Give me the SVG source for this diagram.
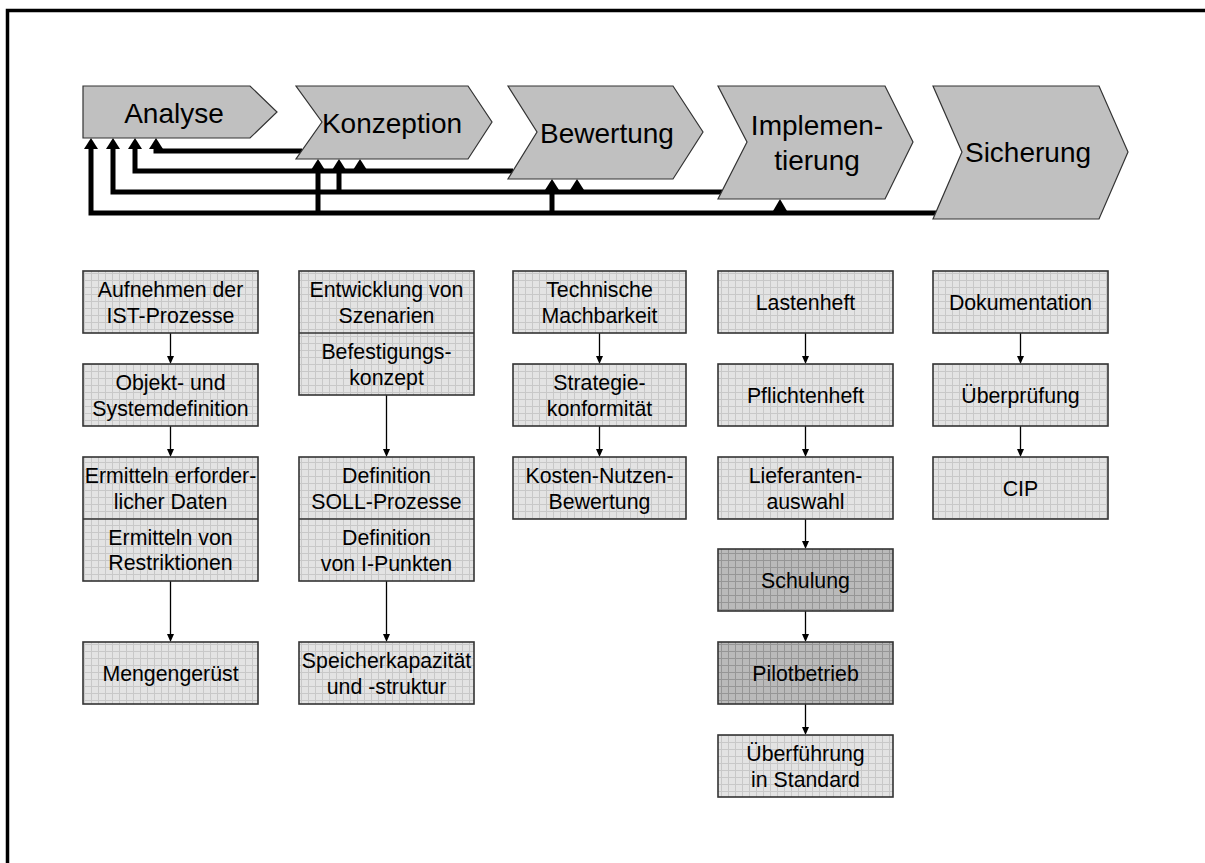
<svg xmlns="http://www.w3.org/2000/svg" width="1205" height="863" viewBox="0 0 1205 863">
  <defs>
    <style>
      .frame { fill: none; stroke: #000; stroke-width: 3.5; }
      .chev { fill: #c0c0c0; stroke: #333; stroke-width: 1.2; }
      .ct { font-family: "Liberation Sans", Arial, sans-serif; font-size: 28px; fill: #000; text-anchor: middle; }
      .box { fill: url(#gridL); stroke: #333; stroke-width: 1.6; }
      .boxd { fill: url(#gridD); stroke: #333; stroke-width: 1.6; }
      .div { stroke: #333; stroke-width: 1.6; }
      .bt { font-family: "Liberation Sans", Arial, sans-serif; font-size: 21.3px; fill: #000; text-anchor: middle; }
      .fb { fill: none; stroke: #000; stroke-width: 5; stroke-linejoin: miter; }
      .fh { fill: #000; }
      .fl { fill: none; stroke: #000; stroke-width: 1.3; }
    </style>
    <pattern id="gridL" width="7" height="7" patternUnits="userSpaceOnUse">
      <rect width="7" height="7" fill="#e3e3e3"/>
      <path d="M0 0.5H7M0.5 0V7" stroke="#c8c8c8" stroke-width="1"/>
    </pattern>
    <pattern id="gridD" width="7" height="7" patternUnits="userSpaceOnUse">
      <rect width="7" height="7" fill="#bababa"/>
      <path d="M0 0.5H7M0.5 0V7" stroke="#969696" stroke-width="1"/>
    </pattern>
  </defs>

  <rect width="1205" height="863" fill="#fff"/>
  <path class="frame" d="M7.5 870V10.5H1212"/>

  <!-- feedback loops back to earlier phases -->
  <g id="connectors">
    <path class="fb" d="M302 151H156V147"/>
    <path class="fb" d="M513 171H135V147"/>
    <path class="fb" d="M722 192H113V147"/>
    <path class="fb" d="M339 192V168"/>
    <path class="fb" d="M936 213H91V147"/>
    <path class="fb" d="M318 213V168"/>
    <path class="fb" d="M552 213V188"/>
    <polygon class="fh" points="149,149 156,138 163,149"/>
    <polygon class="fh" points="128,149 135,138 142,149"/>
    <polygon class="fh" points="106,149 113,138 120,149"/>
    <polygon class="fh" points="84,149 91,138 98,149"/>
    <polygon class="fh" points="353,170 360,159 367,170"/>
    <polygon class="fh" points="332,170 339,159 346,170"/>
    <polygon class="fh" points="311,170 318,159 325,170"/>
    <polygon class="fh" points="570,190 577,179 584,190"/>
    <polygon class="fh" points="545,190 552,179 559,190"/>
    <polygon class="fh" points="773,211 780,199 787,211"/>

    <!-- step arrows inside the columns -->
    <path class="fl" d="M170.5 333V357M170.5 426V450M170.5 581V635"/>
    <polygon class="fh" points="167,356 170.5,364 174,356"/>
    <polygon class="fh" points="167,449 170.5,457 174,449"/>
    <polygon class="fh" points="167,634 170.5,642 174,634"/>
    <path class="fl" d="M386.5 395V450M386.5 581V635"/>
    <polygon class="fh" points="383,449 386.5,457 390,449"/>
    <polygon class="fh" points="383,634 386.5,642 390,634"/>
    <path class="fl" d="M599.5 333V357M599.5 426V450"/>
    <polygon class="fh" points="596,356 599.5,364 603,356"/>
    <polygon class="fh" points="596,449 599.5,457 603,449"/>
    <path class="fl" d="M805.5 333V357M805.5 426V450M805.5 519V542M805.5 611V635M805.5 704V728"/>
    <polygon class="fh" points="802,356 805.5,364 809,356"/>
    <polygon class="fh" points="802,449 805.5,457 809,449"/>
    <polygon class="fh" points="802,541 805.5,549 809,541"/>
    <polygon class="fh" points="802,634 805.5,642 809,634"/>
    <polygon class="fh" points="802,727 805.5,735 809,727"/>
    <path class="fl" d="M1020.5 333V357M1020.5 426V450"/>
    <polygon class="fh" points="1017,356 1020.5,364 1024,356"/>
    <polygon class="fh" points="1017,449 1020.5,457 1024,449"/>
  </g>

  <!-- phase chevrons -->
  <g id="phase-analyse">
    <polygon class="chev" points="83,86 250,86 277,112 250,138 83,138"/>
    <text class="ct" x="174" y="123">Analyse</text>
  </g>
  <g id="phase-konzeption">
    <polygon class="chev" points="296,86 468,86 492,122 468,159 296,159 322,122"/>
    <text class="ct" x="392" y="133">Konzeption</text>
  </g>
  <g id="phase-bewertung">
    <polygon class="chev" points="508,86 673,86 703,132 673,179 508,179 537,132"/>
    <text class="ct" x="607" y="143">Bewertung</text>
  </g>
  <g id="phase-implementierung">
    <polygon class="chev" points="718,86 885,86 913,142 885,199 718,199 747,142"/>
    <text class="ct" x="817" y="135">Implemen-</text>
    <text class="ct" x="817" y="170">tierung</text>
  </g>
  <g id="phase-sicherung">
    <polygon class="chev" points="933,86 1099,86 1128,152 1099,219 933,219 962,152"/>
    <text class="ct" x="1028" y="162">Sicherung</text>
  </g>

  <!-- column: Analyse -->
  <g id="a1">
    <rect class="box" x="83" y="271" width="175" height="62"/>
    <text class="bt" x="170.5" y="297">Aufnehmen der</text>
    <text class="bt" x="170.5" y="323">IST-Prozesse</text>
  </g>
  <g id="a2">
    <rect class="box" x="83" y="364" width="175" height="62"/>
    <text class="bt" x="170.5" y="390">Objekt- und</text>
    <text class="bt" x="170.5" y="416">Systemdefinition</text>
  </g>
  <g id="a3">
    <rect class="box" x="83" y="457" width="175" height="124"/>
    <line class="div" x1="83" y1="519" x2="258" y2="519"/>
    <text class="bt" x="170.5" y="483">Ermitteln erforder-</text>
    <text class="bt" x="170.5" y="509">licher Daten</text>
    <text class="bt" x="170.5" y="545">Ermitteln von</text>
    <text class="bt" x="170.5" y="570">Restriktionen</text>
  </g>
  <g id="a4">
    <rect class="box" x="83" y="642" width="175" height="62"/>
    <text class="bt" x="170.5" y="681">Mengengerüst</text>
  </g>

  <!-- column: Konzeption -->
  <g id="k1">
    <rect class="box" x="299" y="271" width="175" height="124"/>
    <line class="div" x1="299" y1="333" x2="474" y2="333"/>
    <text class="bt" x="386.5" y="297">Entwicklung von</text>
    <text class="bt" x="386.5" y="323">Szenarien</text>
    <text class="bt" x="386.5" y="359">Befestigungs-</text>
    <text class="bt" x="386.5" y="385">konzept</text>
  </g>
  <g id="k2">
    <rect class="box" x="299" y="457" width="175" height="124"/>
    <line class="div" x1="299" y1="519" x2="474" y2="519"/>
    <text class="bt" x="386.5" y="483">Definition</text>
    <text class="bt" x="386.5" y="509">SOLL-Prozesse</text>
    <text class="bt" x="386.5" y="545">Definition</text>
    <text class="bt" x="386.5" y="571">von I-Punkten</text>
  </g>
  <g id="k3">
    <rect class="box" x="299" y="642" width="175" height="62"/>
    <text class="bt" x="386.5" y="668">Speicherkapazität</text>
    <text class="bt" x="386.5" y="694">und -struktur</text>
  </g>

  <!-- column: Bewertung -->
  <g id="b1">
    <rect class="box" x="513" y="271" width="173" height="62"/>
    <text class="bt" x="599.5" y="297">Technische</text>
    <text class="bt" x="599.5" y="323">Machbarkeit</text>
  </g>
  <g id="b2">
    <rect class="box" x="513" y="364" width="173" height="62"/>
    <text class="bt" x="599.5" y="390">Strategie-</text>
    <text class="bt" x="599.5" y="416">konformität</text>
  </g>
  <g id="b3">
    <rect class="box" x="513" y="457" width="173" height="62"/>
    <text class="bt" x="599.5" y="483">Kosten-Nutzen-</text>
    <text class="bt" x="599.5" y="509">Bewertung</text>
  </g>

  <!-- column: Implementierung -->
  <g id="i1">
    <rect class="box" x="718" y="271" width="175" height="62"/>
    <text class="bt" x="805.5" y="310">Lastenheft</text>
  </g>
  <g id="i2">
    <rect class="box" x="718" y="364" width="175" height="62"/>
    <text class="bt" x="805.5" y="403">Pflichtenheft</text>
  </g>
  <g id="i3">
    <rect class="box" x="718" y="457" width="175" height="62"/>
    <text class="bt" x="805.5" y="483">Lieferanten-</text>
    <text class="bt" x="805.5" y="509">auswahl</text>
  </g>
  <g id="i4">
    <rect class="boxd" x="718" y="549" width="175" height="62"/>
    <text class="bt" x="805.5" y="588">Schulung</text>
  </g>
  <g id="i5">
    <rect class="boxd" x="718" y="642" width="175" height="62"/>
    <text class="bt" x="805.5" y="681">Pilotbetrieb</text>
  </g>
  <g id="i6">
    <rect class="box" x="718" y="735" width="175" height="62"/>
    <text class="bt" x="805.5" y="761">Überführung</text>
    <text class="bt" x="805.5" y="787">in Standard</text>
  </g>

  <!-- column: Sicherung -->
  <g id="s1">
    <rect class="box" x="933" y="271" width="175" height="62"/>
    <text class="bt" x="1020.5" y="310">Dokumentation</text>
  </g>
  <g id="s2">
    <rect class="box" x="933" y="364" width="175" height="62"/>
    <text class="bt" x="1020.5" y="403">Überprüfung</text>
  </g>
  <g id="s3">
    <rect class="box" x="933" y="457" width="175" height="62"/>
    <text class="bt" x="1020.5" y="496">CIP</text>
  </g>
</svg>
